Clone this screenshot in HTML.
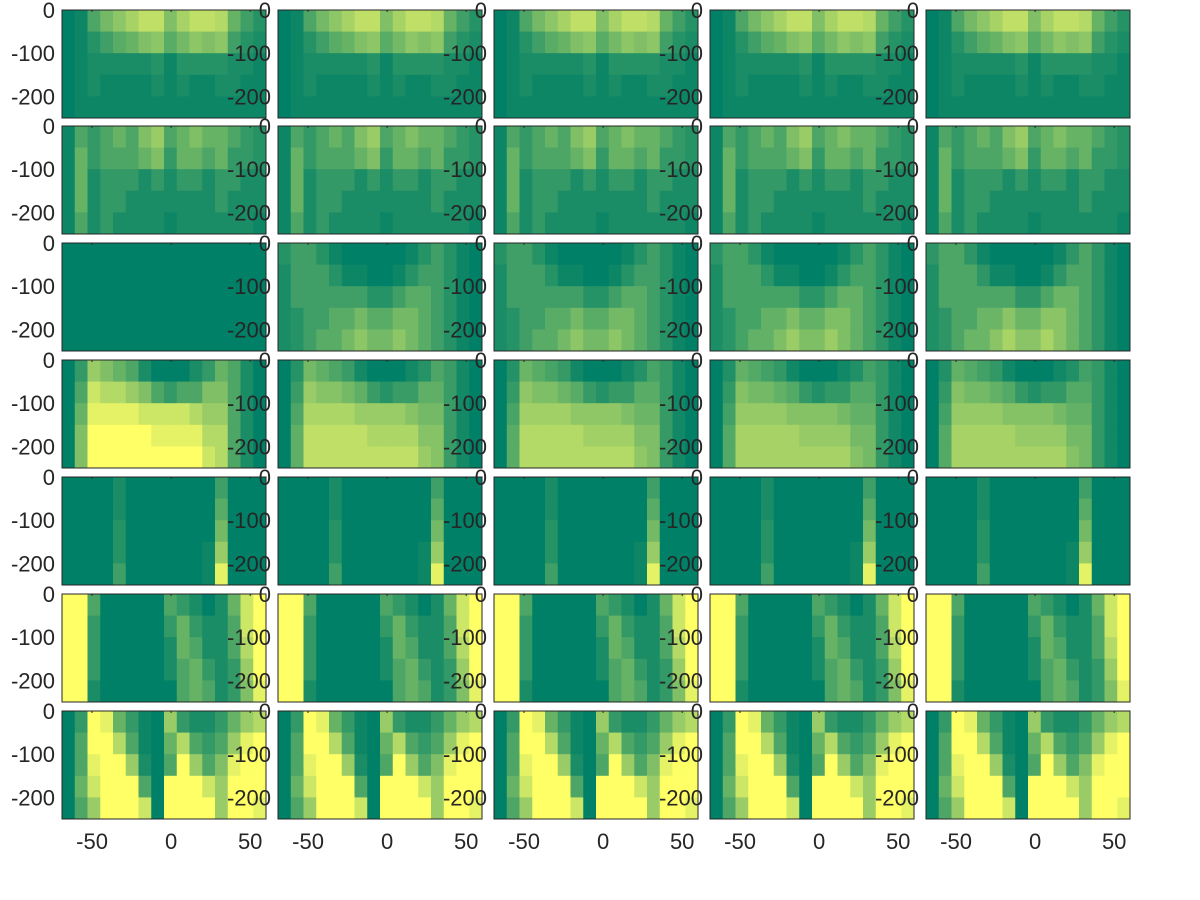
<!DOCTYPE html>
<html><head><meta charset="utf-8"><style>
html,body{margin:0;padding:0;background:#fff;}
svg{display:block;font-family:"Liberation Sans","DejaVu Sans",sans-serif;}
</style></head><body>
<svg id="chart" width="1200" height="900" viewBox="0 0 1200 900"></svg>
<script>
// ---- data ----
const xTicks = [-50, 0, 50];
const yTicks = [0, -100, -200];
const xDomain = [-69, 60];
const yDomain = [0, -250];
const nBins = 16;
const depthBands = 5;
const row0 = [
 [0,0.05,0.3,0.45,0.55,0.65,0.75,0.75,0.5,0.65,0.75,0.75,0.7,0.4,0.25,0.15],
 [0,0.05,0.15,0.25,0.35,0.4,0.5,0.55,0.35,0.45,0.55,0.5,0.55,0.25,0.15,0.1],
 [0,0.05,0.1,0.1,0.1,0.1,0.1,0.15,0.05,0.15,0.15,0.15,0.15,0.1,0.1,0.05],
 [0,0.05,0.1,0.05,0.05,0.05,0.05,0.1,0.05,0.1,0.05,0.05,0.1,0.1,0.05,0.05],
 [0,0.05,0.05,0.05,0.05,0.05,0.05,0.05,0.05,0.05,0.05,0.05,0.05,0.05,0.05,0.05]];
const row1 = [
 [0.05,0.3,0.2,0.3,0.4,0.3,0.5,0.6,0.3,0.4,0.5,0.4,0.4,0.3,0.2,0.15],
 [0.05,0.4,0.2,0.3,0.3,0.3,0.4,0.5,0.2,0.4,0.4,0.3,0.4,0.2,0.2,0.15],
 [0.05,0.4,0.1,0.2,0.2,0.2,0.1,0.2,0.1,0.2,0.2,0.1,0.2,0.2,0.1,0.1],
 [0.05,0.4,0.1,0.2,0.2,0.1,0.1,0.1,0.1,0.1,0.1,0.1,0.2,0.1,0.1,0.1],
 [0.05,0.3,0.1,0.2,0.1,0.1,0.1,0.1,0.05,0.1,0.1,0.1,0.1,0.1,0.1,0.05]];
const row2 = [
 [0.15,0.25,0.25,0.15,0.05,0,0,0,0,0,0.05,0.15,0.25,0.15,0.05,0],
 [0.1,0.25,0.25,0.25,0.15,0.05,0.05,0,0,0.05,0.15,0.25,0.25,0.15,0.05,0],
 [0.1,0.25,0.25,0.25,0.25,0.25,0.25,0.15,0.15,0.25,0.35,0.35,0.25,0.15,0.05,0],
 [0.1,0.15,0.25,0.25,0.35,0.35,0.45,0.35,0.35,0.45,0.45,0.35,0.25,0.15,0.05,0],
 [0.1,0.15,0.25,0.35,0.35,0.45,0.55,0.45,0.45,0.55,0.45,0.35,0.25,0.15,0.05,0]];
const row3 = [
 [0,0.2,0.6,0.5,0.4,0.3,0.1,0,0,0,0.1,0.2,0.4,0.3,0.1,0],
 [0,0.3,0.8,0.7,0.7,0.6,0.5,0.3,0.2,0.3,0.3,0.5,0.5,0.3,0.1,0],
 [0,0.4,0.9,0.9,0.9,0.9,0.8,0.8,0.8,0.8,0.7,0.6,0.6,0.3,0.1,0],
 [0,0.5,1,1,1,1,1,0.9,0.9,0.9,0.9,0.7,0.7,0.3,0.1,0],
 [0,0.5,1,1,1,1,1,1,1,1,1,0.8,0.7,0.3,0.1,0]];
const row4 = [
 [0,0,0,0,0.1,0,0,0,0,0,0,0,0.25,0,0,0],
 [0,0,0,0,0.1,0,0,0,0,0,0,0,0.35,0,0,0],
 [0,0,0,0,0.15,0,0,0,0,0,0,0,0.45,0,0,0],
 [0,0,0,0,0.15,0,0,0,0,0,0,0.05,0.6,0,0,0],
 [0,0,0,0,0.25,0,0,0,0,0,0,0.05,0.9,0,0,0]];
const row5 = [
 [1,1,0.3,0,0,0,0,0,0.3,0.2,0.1,0,0.1,0.4,0.8,1],
 [1,1,0.2,0,0,0,0,0,0.2,0.4,0.2,0.1,0.1,0.3,0.8,1],
 [1,1,0.2,0,0,0,0,0,0.1,0.4,0.3,0.1,0.1,0.3,0.7,1],
 [1,1,0.2,0,0,0,0,0,0.1,0.3,0.4,0.2,0.1,0.2,0.6,1],
 [1,1,0.1,0,0,0,0,0,0,0.3,0.4,0.3,0.1,0.2,0.5,0.9]];
const row6 = [
 [0,0.2,1,0.9,0.4,0.2,0.05,0,0.6,0.2,0.1,0.1,0.2,0.4,0.6,0.7],
 [0,0.3,1,1,0.7,0.3,0.05,0,0.4,0.7,0.3,0.2,0.3,0.6,0.9,1],
 [0,0.3,0.9,1,1,0.6,0.1,0,0.3,1,0.6,0.3,0.5,0.9,1,1],
 [0,0.4,0.8,1,1,1,0.3,0,1,1,1,0.8,0.6,1,1,1],
 [0,0.3,0.6,1,1,1,0.8,0,1,1,1,1,0.6,1,1,0.9]];
const rowsData = [row0,row1,row2,row3,row4,row5,row6];
const colScale = [
 [1,1,1,1,1],[1,1,1,1,1],[0,1,1,1.1,1.2],[1,0.75,0.7,0.65,0.65],
 [1,1,1,1,1],[1,1,1,1,1],[1,1,1,1,1]];

// ---- layout ----
const NS = "http://www.w3.org/2000/svg";
const svg = document.getElementById('chart');
const colX = [62,278,494,710,926];
const rowY = [10,126,243,360,477,594,711];
const PW = 204, PH = 108;
function mk(tag, attrs){const e=document.createElementNS(NS,tag);for(const k in attrs)e.setAttribute(k,attrs[k]);return e;}
function summer(v){v=Math.max(0,Math.min(1,v));return `rgb(${Math.round(255*v)},${Math.round(255*(0.5+v/2))},102)`;}

rowsData.forEach((grid, r) => {
  colScale[r].forEach((s, c) => {
    const x0 = colX[c], y0 = rowY[r];
    const sx = v => x0 + (v - xDomain[0]) / (xDomain[1]-xDomain[0]) * PW;
    const sy = v => y0 + (v - yDomain[0]) / (yDomain[1]-yDomain[0]) * PH;
    const g = mk('g', {});
    
    
    svg.appendChild(g);
    const bw = (xDomain[1]-xDomain[0])/nBins, bh = (yDomain[1]-yDomain[0])/depthBands;
    grid.forEach((rowVals, d) => {
      rowVals.forEach((v, b) => {
        const xa = sx(xDomain[0]+b*bw), xb = sx(xDomain[0]+(b+1)*bw);
        const ya = sy(yDomain[0]+d*bh), yb = sy(yDomain[0]+(d+1)*bh);
        const rc = mk('rect', {x:xa, y:ya, width:xb-xa+0.5, height:yb-ya+0.5, fill:summer(v*s)});
        
        
        g.appendChild(rc);
      });
    });
    const fr = mk('rect', {x:x0, y:y0, width:PW, height:PH, fill:'none', stroke:'#262626', 'stroke-width':1});
    
    
    g.appendChild(fr);
    xTicks.forEach(t => {
      const ln = mk('line', {x1:sx(t), x2:sx(t), y1:y0, y2:y0+2, stroke:'#262626'});
      
      
      g.appendChild(ln);
      if (r === 6) {
        const tx = mk('text', {x:sx(t), y:y0+PH+30, 'text-anchor':'middle', 'font-size':22, fill:'#262626'});
        tx.textContent = t;
        
        
        g.appendChild(tx);
      }
    });
    yTicks.forEach(t => {
      const tx = mk('text', {x:x0-7, y:sy(t)+8, 'text-anchor':'end', 'font-size':22, fill:'#262626'});
      tx.textContent = t;
      
      
      svg.appendChild(tx);
    });
  });
});
</script>
</body></html>
